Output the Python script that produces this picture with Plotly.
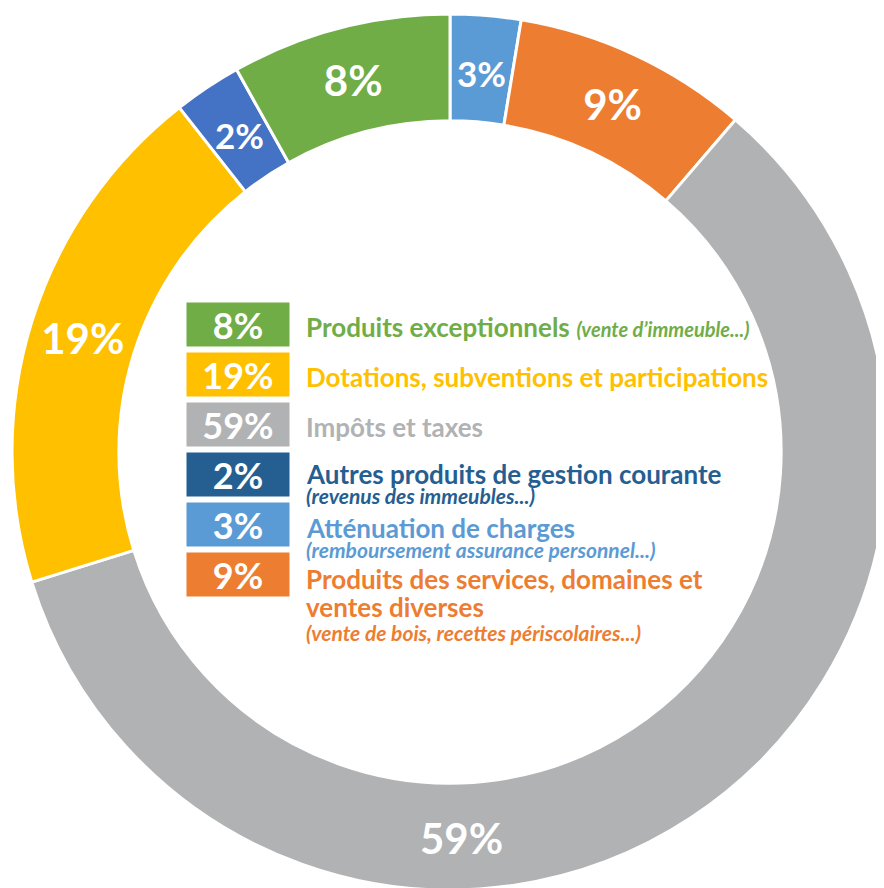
import math
import plotly.graph_objects as go

W, H = 884, 888
OFF = 8  # page body margin around the figure

# Slices, clockwise from 12 o'clock
categories = [
    "Atténuation de charges",
    "Produits des services, domaines et ventes diverses",
    "Impôts et taxes",
    "Dotations, subventions et participations",
    "Autres produits de gestion courante",
    "Produits exceptionnels",
]
slice_values = [2.6, 8.7, 58.9, 19.2, 2.5, 8.1]
pct_labels = ["3%", "9%", "59%", "19%", "2%", "8%"]
slice_colors = ["#5B9BD5", "#ED7D31", "#B1B2B4", "#FFC000", "#4472C4", "#70AD47"]

# Legend (center), top to bottom
legend_pct = ["8%", "19%", "59%", "2%", "3%", "9%"]
legend_titles = [
    ["Produits exceptionnels"],
    ["Dotations, subventions et participations"],
    ["Impôts et taxes"],
    ["Autres produits de gestion courante"],
    ["Atténuation de charges"],
    ["Produits des services, domaines et", "ventes diverses"],
]
legend_notes = [
    "(vente d’immeuble...)",
    "",
    "",
    "(revenus des immeubles...)",
    "(remboursement assurance personnel...)",
    "(vente de bois, recettes périscolaires...)",
]
legend_colors = ["#70AD47", "#FFC000", "#B1B2B4", "#255E91", "#5B9BD5", "#ED7D31"]

FONT = "Lato"

# ring geometry in page pixels
CX, CY, R = 450, 452, 438
HOLE = 0.756
cx, cy = CX - OFF, CY - OFF

# labels drawn natively by the pie vs. as annotations (small slices / gray)
native = ["9%", "19%", "8%"]
slice_text = [t if t in native else "" for t in pct_labels]

fig = go.Figure()
fig.add_trace(go.Pie(
    labels=categories,
    values=slice_values,
    text=slice_text,
    textinfo="text",
    textposition="inside",
    insidetextorientation="horizontal",
    textfont=dict(family=FONT, size=42, color="white", weight="bold"),
    marker=dict(colors=slice_colors, line=dict(color="white", width=3)),
    hole=HOLE,
    sort=False,
    direction="clockwise",
    rotation=0,
    showlegend=False,
    domain=dict(x=[(cx - R) / W, (cx + R) / W], y=[(H - cy - R) / H, (H - cy + R) / H]),
))

def px(x):
    return (x - OFF) / W

def py(y):
    return 1 - (y - OFF) / H

ann = []
# small-slice labels at the middle of their arc
total = sum(slice_values)
cum = 0.0
rmid = (R + R * HOLE) / 2 - 4
for v, t in zip(slice_values, pct_labels):
    mid = (cum + v / 2) / total * 2 * math.pi
    cum += v
    if t in ("2%", "3%"):
        x = CX + rmid * math.sin(mid)
        y = CY - rmid * math.cos(mid)
        ann.append(dict(x=px(x), y=py(y), xref="paper", yref="paper", text="<b>%s</b>" % t,
                        showarrow=False, font=dict(family=FONT, size=35, color="white"),
                        xanchor="center", yanchor="middle"))
# Gray slice label placed at the bottom of the ring
ann.append(dict(x=px(462), y=py(838), xref="paper", yref="paper", text="<b>59%</b>",
                showarrow=False, font=dict(family=FONT, size=42, color="white"),
                xanchor="center", yanchor="middle"))

box_top = 303
pitch = 50
title_y = [[327], [377], [427], [474], [528], [579, 607]]
note_y = [None, None, None, 495, 549, 632]
for i in range(6):
    bcy = box_top + i * pitch + 21.5
    ann.append(dict(x=px(238), y=py(bcy), xref="paper", yref="paper",
                    text="<b>%s</b>" % legend_pct[i], showarrow=False,
                    width=102, height=43, bgcolor=legend_colors[i], borderpad=0,
                    font=dict(family=FONT, size=36, color="white"),
                    xanchor="center", yanchor="middle", align="center", valign="middle"))
    for j, line in enumerate(legend_titles[i]):
        t = "<b>%s</b>" % line
        if i == 0:
            t += " <b><i><span style='font-size:20px'>%s</span></i></b>" % legend_notes[0]
        ann.append(dict(x=px(304), y=py(title_y[i][j]), xref="paper", yref="paper",
                        text=t, showarrow=False, align="left",
                        font=dict(family=FONT, size=26, color=legend_colors[i]),
                        xanchor="left", yanchor="middle"))
    if note_y[i] is not None:
        ann.append(dict(x=px(304), y=py(note_y[i]), xref="paper", yref="paper",
                        text="<b><i>%s</i></b>" % legend_notes[i], showarrow=False,
                        align="left",
                        font=dict(family=FONT, size=21, color=legend_colors[i]),
                        xanchor="left", yanchor="middle"))

fig.update_layout(
    width=W, height=H,
    margin=dict(l=0, r=0, t=0, b=0),
    paper_bgcolor="white",
    plot_bgcolor="white",
    annotations=ann,
)

fig.write_html("out.html")
